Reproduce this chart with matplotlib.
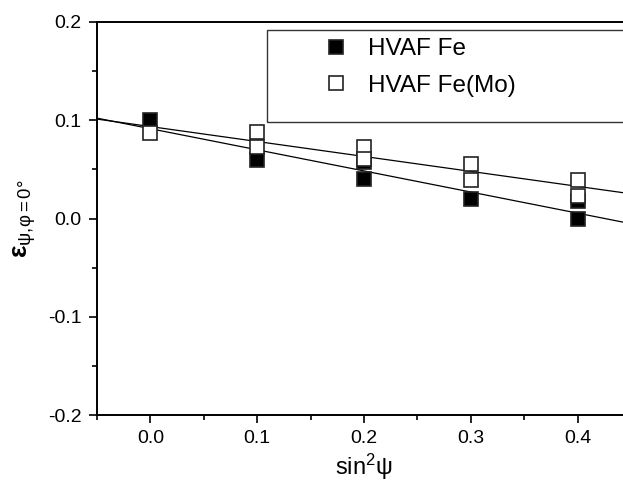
"""Strain vs sin^2(psi) for two HVAF coatings."""
import numpy as np
import matplotlib
matplotlib.use('Agg')
from matplotlib import pyplot as plt
from matplotlib.patches import Rectangle
from matplotlib.ticker import MultipleLocator

# values
fe_x = [0.0, 0.1, 0.2, 0.2, 0.3, 0.4, 0.4]
fe_y = [0.100, 0.060, 0.058, 0.040, 0.020, 0.018, 0.000]
femo_x = [0.0, 0.1, 0.1, 0.2, 0.2, 0.3, 0.3, 0.4, 0.4]
femo_y = [0.087, 0.088, 0.073, 0.073, 0.061, 0.055, 0.039, 0.039, 0.023]
x_ticks = [0.0, 0.1, 0.2, 0.3, 0.4]
y_ticks = [-0.2, -0.1, 0.0, 0.1, 0.2]

plt.rcParams['font.family'] = ['Liberation Sans', 'DejaVu Sans']
plt.rcParams['axes.unicode_minus'] = False
plt.rcParams['mathtext.fontset'] = 'custom'
plt.rcParams['mathtext.rm'] = 'Liberation Sans'
plt.rcParams['mathtext.it'] = 'Liberation Sans'
plt.rcParams['mathtext.bf'] = 'Liberation Sans:bold'

fig = plt.figure(figsize=(6.23, 4.87), dpi=100)
W, H = 623, 487
ax = fig.add_axes([97 / W, 1 - 415 / H, 534 / W, 393 / H])

xlim = (-0.05, 0.45)
xs = np.array(xlim)
for x, y in ((fe_x, fe_y), (femo_x, femo_y)):
    k, b = np.polyfit(x, y, 1)
    ax.plot(xs, k * xs + b, color='black', lw=0.9, zorder=2)

ax.plot(fe_x, fe_y, 's', ms=10, mfc='black', mec='#222222', mew=1.2,
        ls='none', label='HVAF Fe', zorder=3)
ax.plot(femo_x, femo_y, 's', ms=10, mfc='white', mec='#222222', mew=1.2,
        ls='none', label='HVAF Fe(Mo)', zorder=4)

ax.set_xlim(*xlim)
ax.set_ylim(-0.2, 0.2)
ax.set_xticks(x_ticks)
ax.set_yticks(y_ticks)
ax.xaxis.set_minor_locator(MultipleLocator(0.05))
ax.yaxis.set_minor_locator(MultipleLocator(0.05))
ax.set_xticklabels([f'{v:.1f}' for v in x_ticks])
ax.set_yticklabels([f'{v:.1f}' for v in y_ticks])
ax.tick_params(which='major', direction='out', length=6, width=1.2,
               labelsize=14, pad=5)
ax.tick_params(which='minor', direction='out', length=3.5, width=1.2)
for s in ax.spines.values():
    s.set_linewidth(1.4)

ax.set_xlabel(r'sin$^2$ψ', fontsize=17, labelpad=3)
ax.set_ylabel(r'ε$_{\mathrm{ψ{,}φ{=}0°}}$', fontsize=19, fontweight='bold',
              labelpad=7)

# legend box runs past the right edge of the picture
ax.add_patch(Rectangle((0.318, 0.746), 0.75, 0.234, transform=ax.transAxes,
                       fill=False, edgecolor='#333333', lw=1.0,
                       clip_on=False, zorder=5))
ax.legend(loc='upper left', bbox_to_anchor=(0.39, 1.008), frameon=False,
          fontsize=17.5, handlelength=0.9, handletextpad=0.9,
          labelspacing=0.6, borderpad=0.3)

fig.savefig('out.png', dpi=100)
